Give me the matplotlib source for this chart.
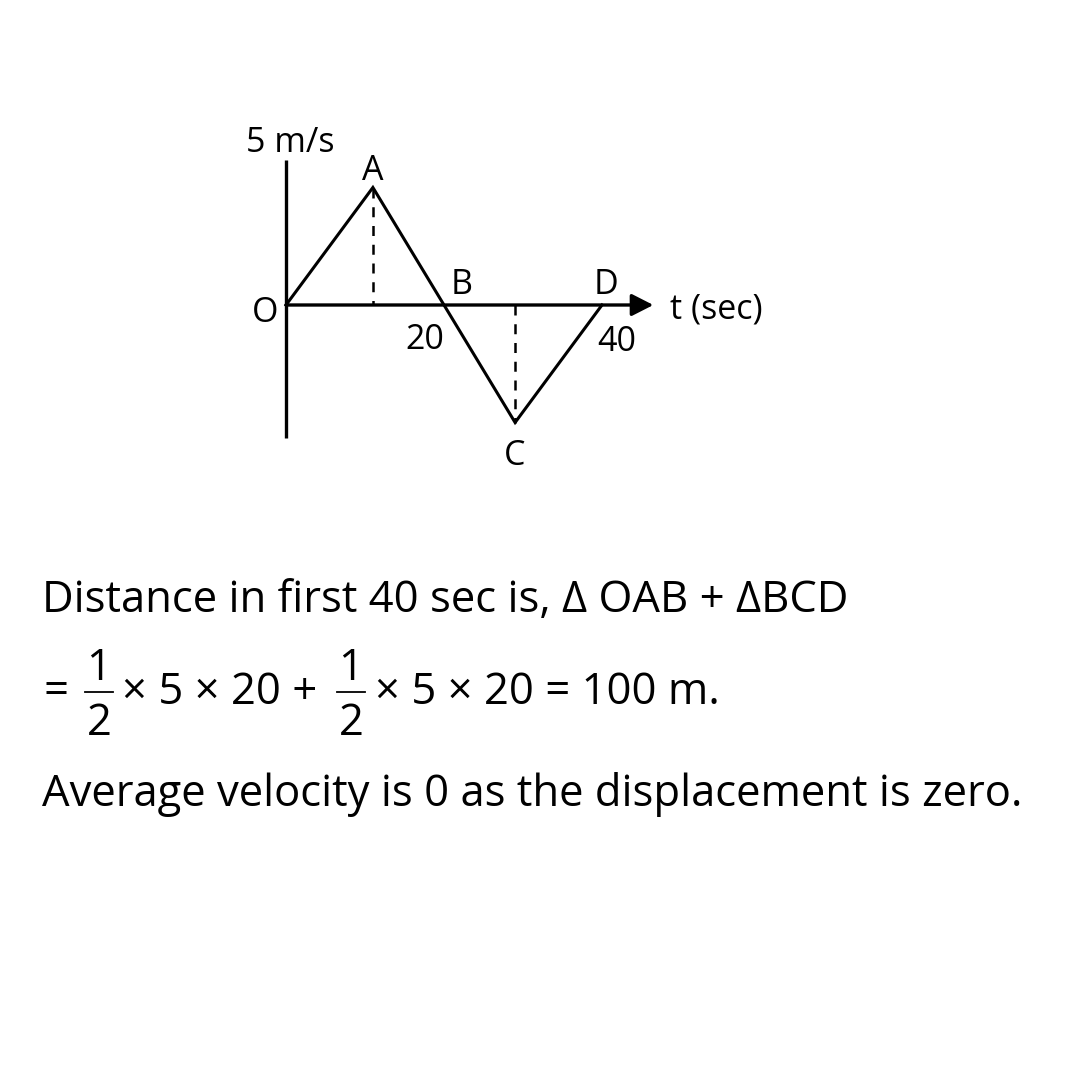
import matplotlib
matplotlib.use("Agg")
import matplotlib.pyplot as plt
from matplotlib.lines import Line2D

# ---- data ----
t_pts = [0, 11, 20, 29, 40]          # O, A, B, C, D (sec)
v_pts = [0, 5, 0, -5, 0]             # m/s
pt_names = ["O", "A", "B", "C", "D"]
tick_labels = ["20", "40"]
y_label = "5 m/s"
x_label = "t (sec)"

FONT = ["Open Sans", "DejaVu Sans"]
plt.rcParams["font.family"] = FONT

W = H = 1080
fig = plt.figure(figsize=(10.8, 10.8), dpi=100)
fig.patch.set_facecolor("white")


def fx(x):
    return x / W


def fy(y):
    return 1 - y / H


# axes whose data coords map onto the diagram (7.9 px/s, 23.5 px per m/s)
x0, y0 = 286, 305
sx, sy = 7.9, 23.5
xl = (-5, 50)
yl = (-7, 8)
left = x0 + xl[0] * sx
right = x0 + xl[1] * sx
top = y0 - yl[1] * sy
bottom = y0 - yl[0] * sy
ax = fig.add_axes([fx(left), fy(bottom), (right - left) / W, (bottom - top) / H])
ax.set_xlim(*xl)
ax.set_ylim(*yl)
ax.axis("off")

# vertical axis
ax.plot([0, 0], [-5.66, 6.17], color="black", lw=2.4, solid_capstyle="butt")
# horizontal axis with arrow
ax.annotate("", xy=(46.5, 0), xytext=(0, 0),
            arrowprops=dict(arrowstyle="-|>,head_length=0.55,head_width=0.28",
                            mutation_scale=24, lw=2.4, color="black",
                            shrinkA=0, shrinkB=0))
# velocity graph
ax.plot(t_pts, v_pts, color="black", lw=2.2, solid_joinstyle="miter")
# dashed drops
ax.plot([t_pts[1], t_pts[1]], [v_pts[1], 0], color="black", lw=1.8,
        linestyle=(0, (4, 3.5)))
ax.plot([t_pts[3], t_pts[3]], [0, v_pts[3]], color="black", lw=1.8,
        linestyle=(0, (4, 3.5)))

lab_fs = 24.5
ax.text(0.6, 6.9, y_label, ha="center", va="center", fontsize=lab_fs)
offsets = {"O": (-2.7, -0.34), "A": (0, 0.7), "B": (2.2, 0.85),
           "C": (0, -1.42), "D": (0.5, 0.85)}
for name, t, v in zip(pt_names, t_pts, v_pts):
    dx, dy = offsets[name]
    ax.text(t + dx, v + dy, name, ha="center", va="center", fontsize=lab_fs)
ax.text(48.6, -0.2, x_label, ha="left", va="center", fontsize=lab_fs)
ax.text(17.6, -1.49, tick_labels[0], ha="center", va="center", fontsize=lab_fs)
ax.text(41.9, -1.57, tick_labels[1], ha="center", va="center", fontsize=lab_fs)

# ---- explanation text ----
fs = 31.4
fig.text(fx(42), fy(612), "Distance in first 40 sec is, \u0394 OAB + \u0394BCD",
         ha="left", va="baseline", fontsize=fs)

base2 = 704
fig.text(fx(43), fy(base2), "=", ha="left", va="baseline", fontsize=fs)
for xc, xa, xb in [(99, 85, 113), (351, 337, 365)]:
    fig.text(fx(xc), fy(680), "1", ha="center", va="baseline", fontsize=fs)
    fig.text(fx(xc), fy(735), "2", ha="center", va="baseline", fontsize=fs)
    fig.add_artist(Line2D([fx(xa), fx(xb)], [fy(692), fy(692)],
                          transform=fig.transFigure, color="black", lw=1.3))
fig.text(fx(122), fy(base2), "\u00d7 5 \u00d7 20 +", ha="left", va="baseline",
         fontsize=fs)
fig.text(fx(375), fy(base2), "\u00d7 5 \u00d7 20 = 100 m.", ha="left",
         va="baseline", fontsize=fs)

fig.text(fx(42), fy(806), "Average velocity is 0 as the displacement is zero.",
         ha="left", va="baseline", fontsize=fs)

fig.savefig("out.png", dpi=100, facecolor="white")
